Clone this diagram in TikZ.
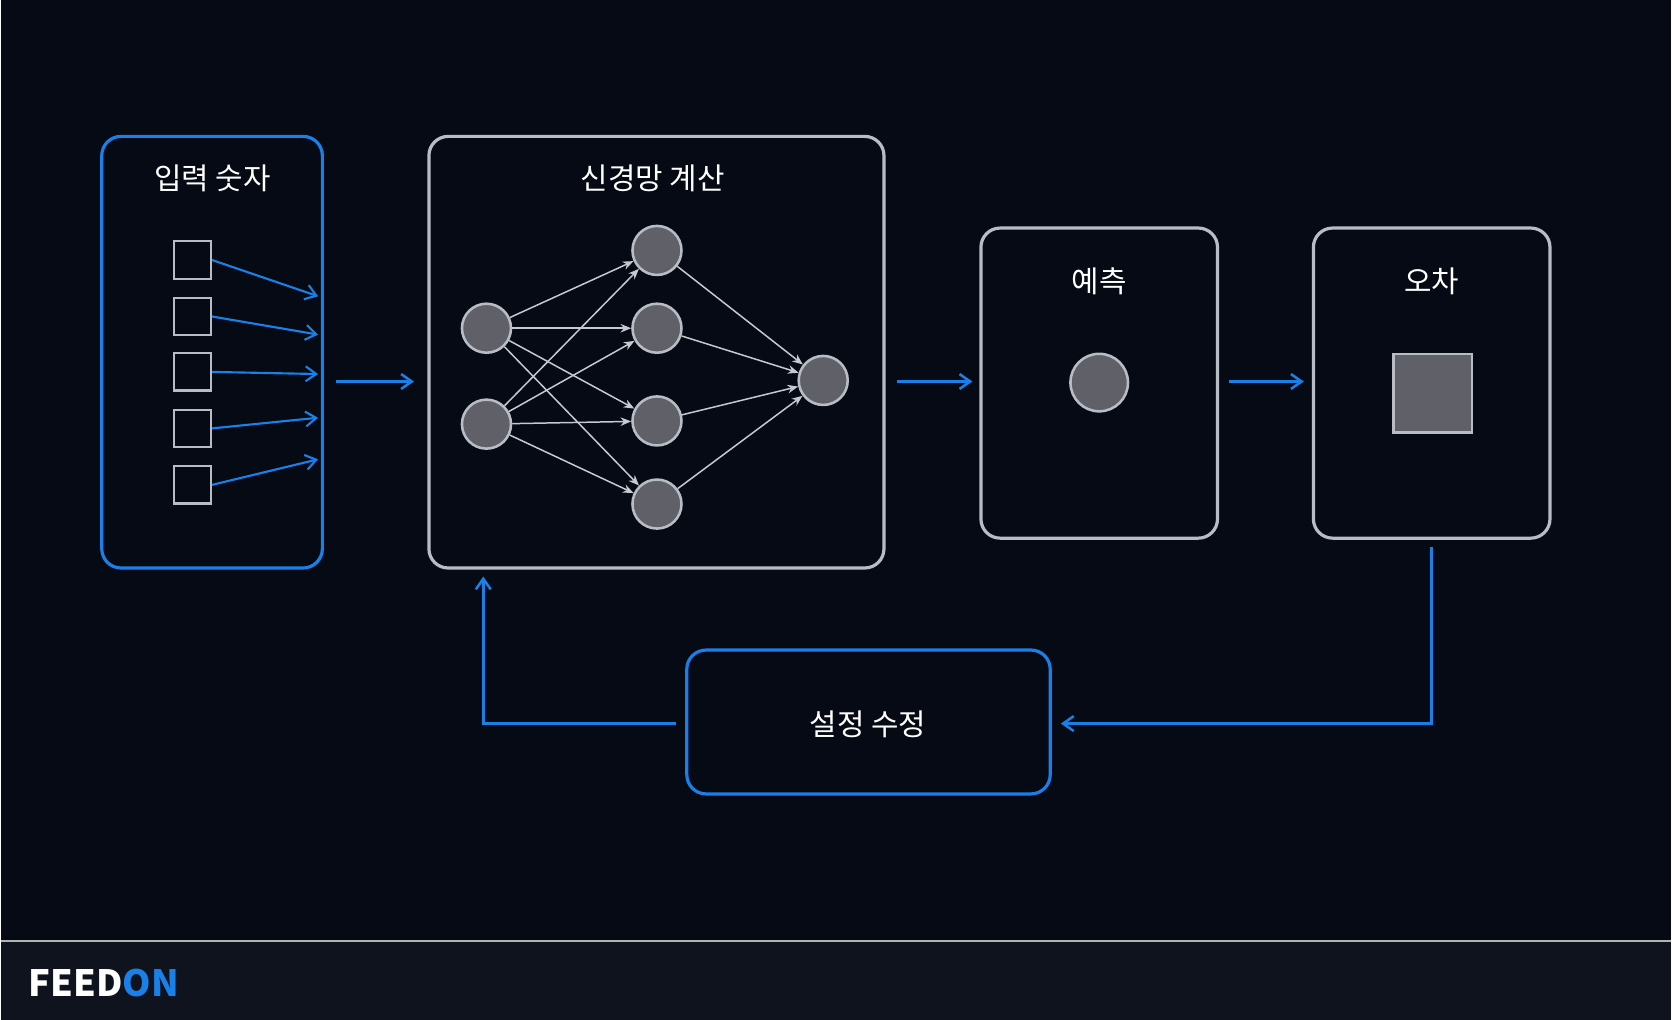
\documentclass[tikz,border=0pt]{standalone}
\usepackage{fontspec}
\setmainfont{Noto Sans CJK KR}
\usetikzlibrary{arrows.meta}
\definecolor{bg}{HTML}{060A14}
\definecolor{foot}{HTML}{0E131D}
\definecolor{blu}{HTML}{1A7FE6}
\definecolor{gry}{HTML}{B8BCC4}
\definecolor{nfill}{HTML}{5F6068}
\begin{document}
\begin{tikzpicture}[x=0.5pt,y=-0.5pt,
 bbox/.style={draw=#1,line width=1.5pt,rounded corners=9pt},
 ttl/.style={text=white,font=\fontsize{14}{16}\selectfont},
 neu/.style={circle,draw=gry,fill=nfill,line width=1.2pt,minimum size=23pt,inner sep=0pt},
 sq/.style={draw=gry,line width=1pt,minimum size=17.5pt,inner sep=0pt},
 barr/.style={draw=blu,line width=1.2pt,-{Straight Barb[length=5pt,width=7pt]}},
 narr/.style={draw=gry!80,line width=0.7pt,-{Stealth[length=5pt,width=4pt]}}]
\fill[bg] (0,0) rectangle (1568,957);
\fill[foot] (0,883) rectangle (1568,957);
\draw[gray!60,line width=0.5pt] (0,883)--(1568,883);
\node[anchor=west,font=\bfseries\fontsize{17}{19}\selectfont,inner sep=0] (logo) at (26,922) {\textcolor{white}{FEED}\textcolor{blu}{ON}};
% input box
\draw[bbox=blu] (95,128) rectangle (302,533);
\node[ttl] (t1) at (199,167) {입력 숫자};
\foreach \i/\y/\e in {1/244/278,2/297/314,3/349/351,4/402/392,5/455/431}{
 \node[sq] (s\i) at (180,\y) {};
 \coordinate (e\i) at (298,\e);
 \draw[barr,line width=1pt] (s\i.east) -- (e\i);
}
\coordinate (a1s) at (315,358); \coordinate (a1e) at (388,358);
\draw[barr] (a1s)--(a1e);
% NN box
\draw[bbox=gry] (402,128) rectangle (829,533);
\node[ttl] (t2) at (612,167) {신경망 계산};
\node[neu] (i1) at (456,308) {};
\node[neu] (i2) at (456,398) {};
\node[neu] (h1) at (616,235) {};
\node[neu] (h2) at (616,308) {};
\node[neu] (h3) at (616,395) {};
\node[neu] (h4) at (616,473) {};
\node[neu] (o) at (772,357) {};
\foreach \a in {i1,i2}{\foreach \b in {h1,h2,h3,h4}{\draw[narr] (\a)--(\b);}}
\foreach \b in {h1,h2,h3,h4}{\draw[narr] (\b)--(o);}
\coordinate (a2s) at (841,358); \coordinate (a2e) at (912,358);
\draw[barr] (a2s)--(a2e);
% prediction
\draw[bbox=gry] (920,214) rectangle (1142,505);
\node[ttl] (t3) at (1031,264) {예측};
\node[neu,minimum size=27pt] (p) at (1031,359) {};
\coordinate (a3s) at (1153,358); \coordinate (a3e) at (1223,358);
\draw[barr] (a3s)--(a3e);
% error
\draw[bbox=gry] (1232,214) rectangle (1454,505);
\node[ttl] (t4) at (1343,264) {오차};
\node[draw=gry,fill=nfill,line width=1.2pt,minimum size=37pt,inner sep=0] (err) at (1344,369) {};
% settings
\draw[bbox=blu] (644,610) rectangle (985,745);
\node[ttl] (t5) at (814,680) {설정 수정};
\coordinate (f1) at (1343,513); \coordinate (f2) at (1343,679); \coordinate (f3) at (995,679);
\draw[barr] (f1)--(f2)--(f3);
\coordinate (g1) at (634,679); \coordinate (g2) at (453,679); \coordinate (g3) at (453,541);
\draw[barr] (g1)--(g2)--(g3);
\end{tikzpicture}
\end{document}
